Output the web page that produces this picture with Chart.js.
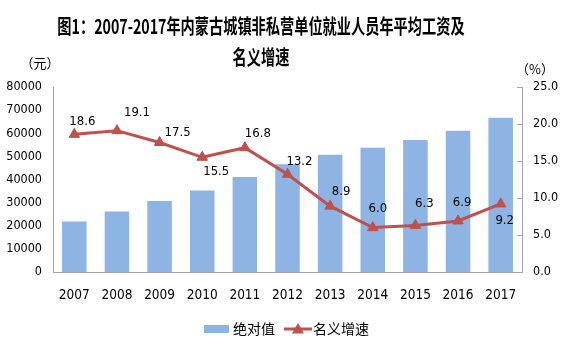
<!DOCTYPE html>
<html>
<head>
<meta charset="utf-8">
<script src="https://cdn.jsdelivr.net/npm/chart.js@4/dist/chart.umd.min.js"></script>
<style>
  html, body { margin: 0; padding: 0; background: #fff; }
  #wrap { position: relative; width: 566px; height: 356px; overflow: hidden; }
  canvas { position: absolute; left: 0; top: 0; }
  .ttl { position: absolute; left: -139px; width: 800px; text-align: center;
         font-family: "Noto Sans CJK SC", sans-serif; font-weight: bold; font-size: 20px;
         line-height: 30px; color: #000; transform: scaleX(0.71); transform-origin: 400px 50%;
         white-space: nowrap; }
</style>
</head>
<body>
<div id="wrap">
  <canvas id="c" width="566" height="356"></canvas>
  <div class="ttl" style="top:11px">图1：2007-2017年内蒙古城镇非私营单位就业人员年平均工资及</div>
  <div class="ttl" style="top:42px">名义增速</div>
</div>
<script>
const years = ['2007','2008','2009','2010','2011','2012','2013','2014','2015','2016','2017'];
const absoluteWage = [21884, 26114, 30699, 35211, 41118, 46557, 50723, 53748, 57135, 61067, 66679];
const nominalGrowth = [18.6, 19.1, 17.5, 15.5, 16.8, 13.2, 8.9, 6.0, 6.3, 6.9, 9.2];
const seriesNames = ['绝对值', '名义增速'];
const leftUnit = '（元）';
const rightUnit = '（%）';

const NARROW = "'Liberation Sans Narrow', 'DejaVu Sans Condensed', 'Liberation Sans', sans-serif";
const CJK = "'Noto Sans CJK SC', sans-serif";
const BLUE = '#8db4e2';
const RED = '#c0504d';
const AXIS = '#a6a6a6';

const extras = {
  id: 'extras',
  afterDatasetsDraw(chart) {
    const ctx = chart.ctx;
    const meta = chart.getDatasetMeta(1);
    const offs = [[8,-13],[20,-18],[18,-10],[14,14],[13,-14],[12,-13],[11,-15],[5,-19],[9,-22],[4,-18],[4,17]];
    ctx.save();
    ctx.font = '13px ' + NARROW;
    ctx.fillStyle = '#000';
    ctx.textAlign = 'center';
    ctx.textBaseline = 'middle';
    meta.data.forEach((pt, i) => {
      const o = offs[i] || [0, -14];
      ctx.fillText(nominalGrowth[i].toFixed(1), pt.x + o[0], pt.y + o[1]);
    });
    ctx.restore();
  },
  afterDraw(chart) {
    const ctx = chart.ctx;
    const y1 = chart.scales.y1;
    ctx.save();
    ctx.strokeStyle = AXIS;
    ctx.lineWidth = 1;
    y1.ticks.forEach((t, i) => {
      const y = Math.round(y1.getPixelForTick(i)) + 0.5;
      ctx.beginPath();
      ctx.moveTo(y1.left - 5, y);
      ctx.lineTo(y1.left, y);
      ctx.stroke();
    });
    ctx.fillStyle = '#000';
    ctx.font = '13px ' + CJK;
    ctx.textAlign = 'center';
    ctx.textBaseline = 'middle';
    ctx.fillText(leftUnit, 40, 63);
    ctx.fillText(rightUnit, 535, 69);
    const ly = 329;
    ctx.fillStyle = BLUE;
    ctx.fillRect(204, ly - 4, 25, 8);
    ctx.font = '14px ' + CJK;
    ctx.fillStyle = '#000';
    ctx.textAlign = 'left';
    ctx.fillText(seriesNames[0], 233, ly);
    ctx.strokeStyle = RED;
    ctx.lineWidth = 3;
    ctx.beginPath();
    ctx.moveTo(284, ly);
    ctx.lineTo(312, ly);
    ctx.stroke();
    ctx.fillStyle = RED;
    ctx.beginPath();
    ctx.moveTo(298, ly - 6);
    ctx.lineTo(304, ly + 4.5);
    ctx.lineTo(292, ly + 4.5);
    ctx.closePath();
    ctx.fill();
    ctx.fillStyle = '#000';
    ctx.fillText(seriesNames[1], 313, ly);
    ctx.restore();
  }
};

new Chart(document.getElementById('c'), {
  data: {
    labels: years,
    datasets: [
      {
        type: 'bar',
        label: seriesNames[0],
        data: absoluteWage,
        yAxisID: 'y',
        backgroundColor: BLUE,
        borderWidth: 0,
        barPercentage: 0.575,
        categoryPercentage: 1,
        order: 2
      },
      {
        type: 'line',
        label: seriesNames[1],
        data: nominalGrowth,
        yAxisID: 'y1',
        borderColor: RED,
        backgroundColor: RED,
        borderWidth: 3,
        pointStyle: 'triangle',
        pointRadius: 6,
        pointBorderWidth: 1,
        pointBackgroundColor: RED,
        pointBorderColor: RED,
        tension: 0,
        order: 1
      }
    ]
  },
  options: {
    responsive: false,
    animation: false,
    devicePixelRatio: 1,
    layout: { padding: { top: 87, left: 0, right: 0, bottom: 0 } },
    plugins: { legend: { display: false }, title: { display: false }, tooltip: { enabled: false } },
    scales: {
      x: {
        offset: true,
        grid: { display: false, drawTicks: false },
        border: { color: AXIS, width: 1 },
        ticks: { color: '#000', font: { family: NARROW, size: 13.5 }, padding: 15 },
        afterFit(s) { s.height = 84; }
      },
      y: {
        position: 'left',
        min: 0, max: 80000,
        grid: { display: false, drawTicks: false },
        border: { color: AXIS, width: 1 },
        ticks: { stepSize: 10000, color: '#000', font: { family: NARROW, size: 12.5 }, padding: 11,
                 callback: v => String(v) },
        afterFit(s) { s.width = 53; }
      },
      y1: {
        position: 'right',
        min: 0, max: 25,
        grid: { display: false, drawTicks: false },
        border: { color: AXIS, width: 1 },
        ticks: { stepSize: 5, color: '#000', font: { family: NARROW, size: 12.5 }, padding: 11,
                 callback: v => Number(v).toFixed(1) },
        afterFit(s) { s.width = 44; }
      }
    }
  },
  plugins: [extras]
});
</script>
</body>
</html>
